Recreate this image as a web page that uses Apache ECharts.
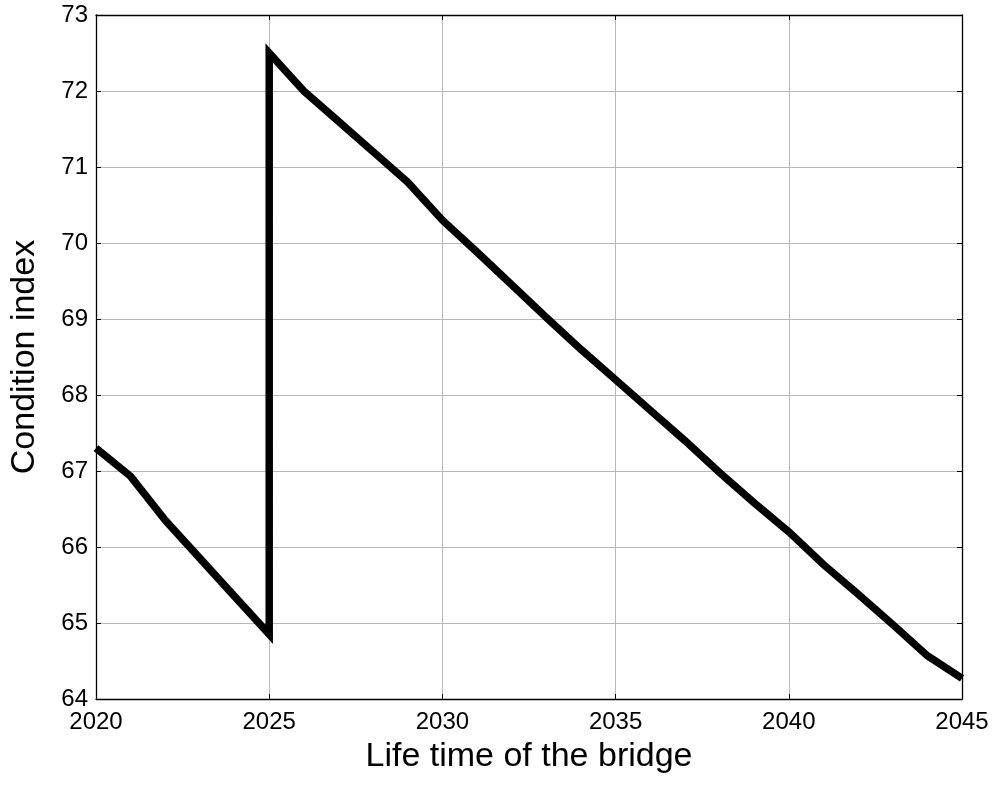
<!DOCTYPE html>
<html>
<head>
<meta charset="utf-8">
<script src="https://cdn.jsdelivr.net/npm/echarts@6/dist/echarts.min.js"></script>
<style>
html,body{margin:0;padding:0;background:#fff;}
#chart{width:996px;height:785px;}
</style>
</head>
<body>
<div id="chart"></div>
<script>
// Years and condition index values (repair at 2025 produces a vertical jump)
const years = [2020, 2021, 2022, 2023, 2024, 2025, 2025, 2026, 2027, 2028, 2029, 2030, 2031, 2032, 2033, 2034, 2035, 2036, 2037, 2038, 2039, 2040, 2041, 2042, 2043, 2044, 2045];
const conditionIndex = [67.3, 66.93, 66.35, 65.85, 65.35, 64.85, 72.5, 72.0, 71.6, 71.2, 70.8, 70.3, 69.88, 69.45, 69.02, 68.6, 68.2, 67.8, 67.4, 66.98, 66.58, 66.2, 65.77, 65.38, 64.98, 64.57, 64.27];
const xTicks = { min: 2020, max: 2045, interval: 5 };
const yTicks = { min: 64, max: 73, interval: 1 };
const xTitle = 'Life time of the bridge';
const yTitle = 'Condition index';

const data = years.map((y, i) => [y, conditionIndex[i]]);
const font = '"Liberation Sans", Arial, sans-serif';
const gridColor = '#b8b8b8';

const chart = echarts.init(document.getElementById('chart'), null, { renderer: 'canvas' });
chart.setOption({
  animation: false,
  backgroundColor: '#ffffff',
  grid: { left: 94, right: 34, top: 15, bottom: 86, containLabel: false },
  xAxis: [
    {
      type: 'value', position: 'bottom',
      min: xTicks.min, max: xTicks.max, interval: xTicks.interval,
      name: xTitle, nameLocation: 'middle', nameGap: 41,
      nameTextStyle: { fontFamily: font, fontSize: 34, color: '#000' },
      axisLine: { show: true, onZero: false, lineStyle: { color: '#000', width: 1.3 } },
      axisTick: { show: true, inside: true, length: 5, lineStyle: { color: '#000' } },
      axisLabel: { fontFamily: font, fontSize: 24, color: '#000', margin: 11, formatter: v => String(v) },
      splitLine: { show: true, lineStyle: { color: gridColor, width: 1 } }
    },
    {
      type: 'value', position: 'top',
      min: xTicks.min, max: xTicks.max, interval: xTicks.interval,
      axisLine: { show: true, onZero: false, lineStyle: { color: '#000', width: 1.3 } },
      axisTick: { show: true, inside: true, length: 5, lineStyle: { color: '#000' } },
      axisLabel: { show: false },
      splitLine: { show: false }
    }
  ],
  yAxis: [
    {
      type: 'value', position: 'left',
      min: yTicks.min, max: yTicks.max, interval: yTicks.interval,
      name: yTitle, nameLocation: 'middle', nameGap: 54, nameRotate: 90,
      nameTextStyle: { fontFamily: font, fontSize: 34, color: '#000' },
      axisLine: { show: true, onZero: false, lineStyle: { color: '#000', width: 1.3 } },
      axisTick: { show: true, inside: true, length: 5, lineStyle: { color: '#000' } },
      axisLabel: { fontFamily: font, fontSize: 24, color: '#000', margin: 8 },
      splitLine: { show: true, lineStyle: { color: gridColor, width: 1 } }
    },
    {
      type: 'value', position: 'right',
      min: yTicks.min, max: yTicks.max, interval: yTicks.interval,
      axisLine: { show: true, onZero: false, lineStyle: { color: '#000', width: 1.3 } },
      axisTick: { show: true, inside: true, length: 5, lineStyle: { color: '#000' } },
      axisLabel: { show: false },
      splitLine: { show: false }
    }
  ],
  series: [
    {
      type: 'line',
      data: data,
      showSymbol: false,
      symbol: 'none',
      clip: false,
      lineStyle: { color: '#000', width: 7.5, join: 'miter', miterLimit: 3 }
    }
  ]
});
</script>
</body>
</html>
